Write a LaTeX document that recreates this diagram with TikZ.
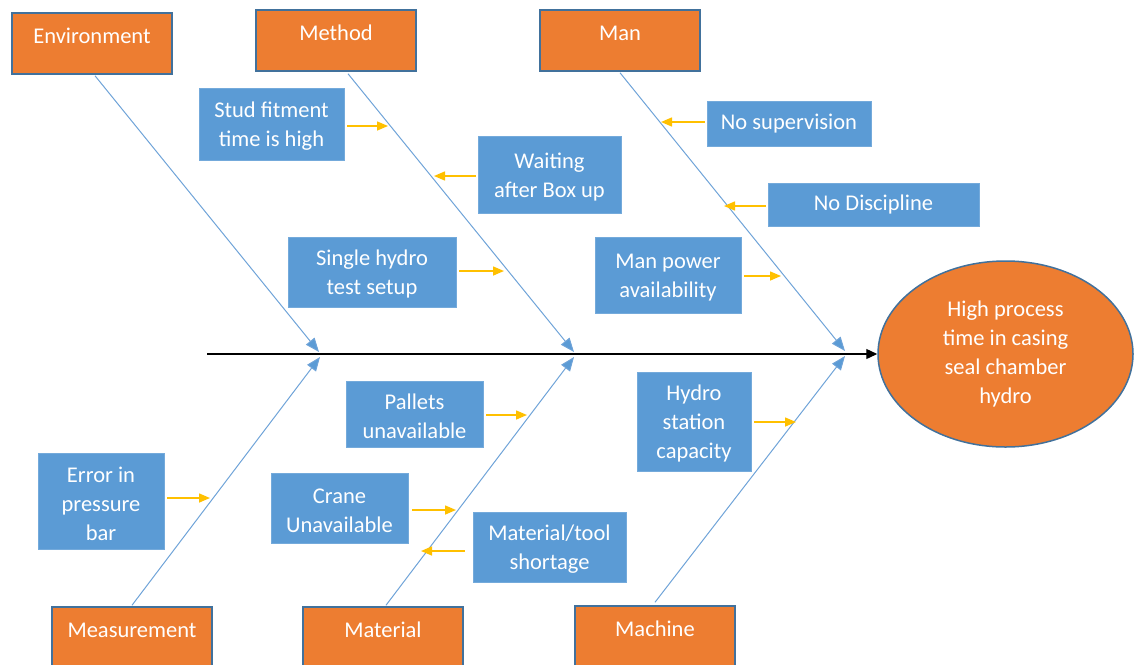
\documentclass[tikz,border=0pt]{standalone}
\usepackage{fontspec}
\setmainfont{Carlito}
\usetikzlibrary{arrows.meta,shapes.geometric,calc}
\definecolor{orangeF}{HTML}{ED7D31}
\definecolor{blueF}{HTML}{5B9BD5}
\definecolor{edgeB}{HTML}{41719C}
\definecolor{boneC}{HTML}{6FA3D8}
\definecolor{yel}{HTML}{FFC000}
\begin{document}
\begin{tikzpicture}[x=1pt,y=-1pt,
  cat/.style={draw=edgeB,line width=1.5pt,fill=orangeF,text=white,minimum width=160pt,
    inner xsep=0pt,inner ysep=7pt,text height=23pt,text depth=24pt,
    font=\fontsize{22.5}{29}\selectfont},
  cause/.style={fill=blueF,draw=blueF!85!white,line width=0.6pt,text=white,align=center,
    inner sep=0pt,font=\fontsize{22.5}{29}\selectfont},
  bone/.style={draw=boneC,line width=1pt,-{Triangle[length=14pt,width=11pt,fill=blueF]}},
  yarrow/.style={draw=yel,line width=1.5pt,-{Triangle[length=11pt,width=9pt]}},
  spine/.style={draw=black,line width=1.3pt,-{Triangle[length=11pt,width=10pt]}}]
\useasboundingbox (0,0) rectangle (1134,664);
\clip (0,0) rectangle (1134,664);

% effect
\node[ellipse,draw=edgeB,line width=1.5pt,fill=orangeF,minimum width=255pt,minimum height=186pt,
  inner sep=0pt,align=center,text=white,font=\fontsize{22.5}{29}\selectfont] (eff) at (1005.5,354)
  {High process\\time in casing\\seal chamber\\hydro};

% categories
\node[cat] (env) at (92,43.5) {Environment};
\node[cat] (meth) at (336,40.5) {Method};
\node[cat] (man) at (620,40.5) {Man};
\node[cat] (meas) at (132,637.5) {Measurement};
\node[cat] (mat) at (383,637.5) {Material};
\node[cat] (mach) at (655,636.5) {Machine};

% spine
\coordinate (s0) at (207,354);
\draw[spine] (s0) -- (eff.west);

% junctions on spine
\coordinate (j1) at (319,352);
\coordinate (j2) at (574,352);
\coordinate (j3) at (845,351);
\coordinate (k1) at (320,357);
\coordinate (k2) at (574,357);
\coordinate (k3) at (845,356);

% bones
\draw[bone] ($(env.south)+(3,1)$) -- (j1);
\draw[bone] ($(meth.south)+(12,2)$) -- (j2);
\draw[bone] ($(man.south)+(0,1)$) -- (j3);
\draw[bone] ($(meas.north)+(0,-1)$) -- (k1);
\draw[bone] ($(mat.north)+(3,-1)$) -- (k2);
\draw[bone] ($(mach.north)+(0,-3)$) -- (k3);

% causes
\node[cause,minimum width=145pt,minimum height=72pt] (stud) at (271.5,124) {\strut Stud fitment\\time is high};
\node[cause,minimum width=143pt,minimum height=77pt] (wait) at (549.5,174.5) {\strut Waiting\\after Box up};
\node[cause,minimum width=168pt,minimum height=70pt] (single) at (372,272) {\strut Single hydro\\test setup};
\node[cause,minimum width=164pt,minimum height=45pt] (nosup) at (789,123.5) {No supervision};
\node[cause,minimum width=211pt,minimum height=43pt] (nodis) at (873.5,204.5) {No Discipline};
\node[cause,minimum width=146pt,minimum height=76pt] (manpow) at (668,275) {\strut Man power\\availability};
\node[cause,minimum width=137pt,minimum height=66pt] (pallets) at (414.5,414) {\strut Pallets\\unavailable};
\node[cause,minimum width=114pt,minimum height=99pt] (hydro) at (694,421.5) {\strut Hydro\\station\\capacity};
\node[cause,minimum width=126pt,minimum height=96pt] (error) at (101,501) {\strut Error in\\pressure\\bar};
\node[cause,minimum width=137pt,minimum height=70pt] (crane) at (339.5,508) {\strut Crane\\Unavailable};
\node[cause,minimum width=153pt,minimum height=70pt] (mattool) at (549.5,547) {\strut Material/tool\\shortage};

% yellow arrow tips
\coordinate (y1) at (388,126);
\coordinate (y2) at (434,176);
\coordinate (y3) at (504,271);
\coordinate (y4) at (661,122);
\coordinate (y5) at (724,206);
\coordinate (y6) at (781,276);
\coordinate (y7) at (527,415);
\coordinate (y8) at (796,422);
\coordinate (y9) at (210,498);
\coordinate (y10) at (456,510);
\coordinate (y11) at (421,551);

\draw[yarrow] ($(stud.east|-y1)+(3,0)$) -- (y1);
\draw[yarrow] ($(wait.west|-y2)+(-2,0)$) -- (y2);
\draw[yarrow] ($(single.east|-y3)+(3,0)$) -- (y3);
\draw[yarrow] ($(nosup.west|-y4)+(-2,0)$) -- (y4);
\draw[yarrow] ($(nodis.west|-y5)+(-2,0)$) -- (y5);
\draw[yarrow] ($(manpow.east|-y6)+(3,0)$) -- (y6);
\draw[yarrow] ($(pallets.east|-y7)+(3,0)$) -- (y7);
\draw[yarrow] ($(hydro.east|-y8)+(3,0)$) -- (y8);
\draw[yarrow] ($(error.east|-y9)+(3,0)$) -- (y9);
\draw[yarrow] ($(crane.east|-y10)+(4,0)$) -- (y10);
\draw[yarrow] ($(mattool.west|-y11)+(-8,0)$) -- (y11);
\end{tikzpicture}
\end{document}
